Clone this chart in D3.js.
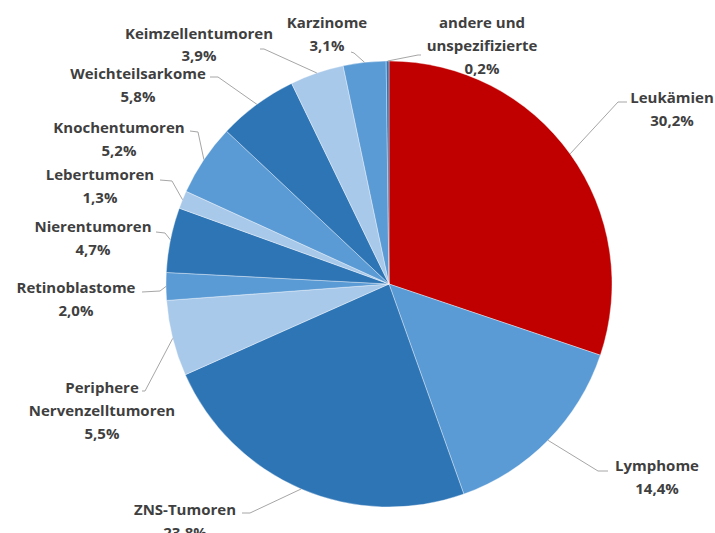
<!DOCTYPE html>
<html>
<head>
<meta charset="utf-8">
<script src="https://cdn.jsdelivr.net/npm/d3@7"></script>
<style>
  html, body { margin: 0; padding: 0; background: #fff; }
  svg { display: block; }
</style>
</head>
<body>
<svg id="chart" width="715" height="533"></svg>
<script>
// Diagnosegruppen (Anteil in %), im Uhrzeigersinn ab 12 Uhr
const categories = [
  "Leukämien", "Lymphome", "ZNS-Tumoren", "Periphere Nervenzelltumoren",
  "Retinoblastome", "Nierentumoren", "Lebertumoren", "Knochentumoren",
  "Weichteilsarkome", "Keimzellentumoren", "Karzinome", "andere und unspezifizierte"
];
const values = [30.2, 14.4, 23.8, 5.5, 2.0, 4.7, 1.3, 5.2, 5.8, 3.9, 3.1, 0.2];

// Beschriftungszeilen je Segment (ohne Prozentwert)
const labelLines = [
  ["Leukämien"], ["Lymphome"], ["ZNS-Tumoren"], ["Periphere", "Nervenzelltumoren"],
  ["Retinoblastome"], ["Nierentumoren"], ["Lebertumoren"], ["Knochentumoren"],
  ["Weichteilsarkome"], ["Keimzellentumoren"], ["Karzinome"], ["andere und", "unspezifizierte"]
];

// Layout der Beschriftungen: Textmitte x, erste Grundlinie y, Zeilenabstand,
// Knick- und Endpunkt der Führungslinie
const labelLayout = [
  { x: 672, y: 103, dy: 23, knee: [618, 102], end: [627, 102] },
  { x: 657, y: 471, dy: 23, knee: [598, 471], end: [608, 471] },
  { x: 185, y: 515, dy: 23, knee: [250, 513], end: [242, 513] },
  { x: 102, y: 393, dy: 23, knee: [145, 391], end: [142, 391] },
  { x: 76,  y: 293, dy: 23, knee: [160, 291], end: [142, 292] },
  { x: 93,  y: 232, dy: 23, knee: [165, 233], end: [156, 232] },
  { x: 100, y: 180, dy: 23, knee: [172, 181], end: [160, 180] },
  { x: 119, y: 133, dy: 23, knee: [198, 132], end: [190, 131] },
  { x: 138, y: 79,  dy: 23, knee: [218, 77],  end: [210, 77] },
  { x: 199, y: 39,  dy: 22, knee: [264, 49],  end: [260, 49] },
  { x: 327, y: 28,  dy: 23, knee: [354, 53],  end: [351, 52] },
  { x: 482, y: 28,  dy: 23, knee: [418, 55],  end: [421, 55] }
];

const colors = [
  "#c00000", "#5b9bd5", "#2e75b6", "#a9c9ea", "#5b9bd5", "#2e75b6",
  "#a9c9ea", "#5b9bd5", "#2e75b6", "#a9c9ea", "#5b9bd5", "#2e75b6"
];

const cx = 389, cy = 284, radius = 223;

const svg = d3.select("#chart");
const g = svg.append("g").attr("transform", `translate(${cx},${cy})`);

const data = categories.map((c, i) => ({ name: c, value: values[i], i }));

const pie = d3.pie().sort(null).value(d => d.value);
const arc = d3.arc().innerRadius(0).outerRadius(radius);
const arcs = pie(data);

// Segmente
g.selectAll("path.slice")
  .data(arcs)
  .join("path")
  .attr("class", "slice")
  .attr("d", arc)
  .attr("fill", d => colors[d.data.i])
  .attr("stroke", "#ffffff")
  .attr("stroke-width", 0.6)
  .attr("stroke-opacity", 0.6);

// Führungslinien vom Segmentrand zur Beschriftung
const fmt = v => d3.format(".1f")(v).replace(".", ",") + "%";

arcs.forEach(a => {
  const mid = (a.startAngle + a.endAngle) / 2;
  const px = cx + radius * Math.sin(mid);
  const py = cy - radius * Math.cos(mid);
  const L = labelLayout[a.data.i];
  svg.append("polyline")
    .attr("points", [[px, py], L.knee, L.end].map(p => p.join(",")).join(" "))
    .attr("fill", "none")
    .attr("stroke", "#a6a6a6")
    .attr("stroke-width", 1);
});

// Beschriftungen
arcs.forEach(a => {
  const L = labelLayout[a.data.i];
  const lines = labelLines[a.data.i].concat([fmt(a.data.value)]);
  const t = svg.append("text")
    .attr("text-anchor", "middle")
    .attr("font-family", "'Open Sans', Lato, sans-serif")
    .attr("font-weight", 700)
    .attr("font-size", 15)
    .attr("fill", "#3f3f3f");
  lines.forEach((ln, k) => {
    t.append("tspan").attr("x", L.x).attr("y", L.y + k * L.dy).text(ln);
  });
});
</script>
</body>
</html>
